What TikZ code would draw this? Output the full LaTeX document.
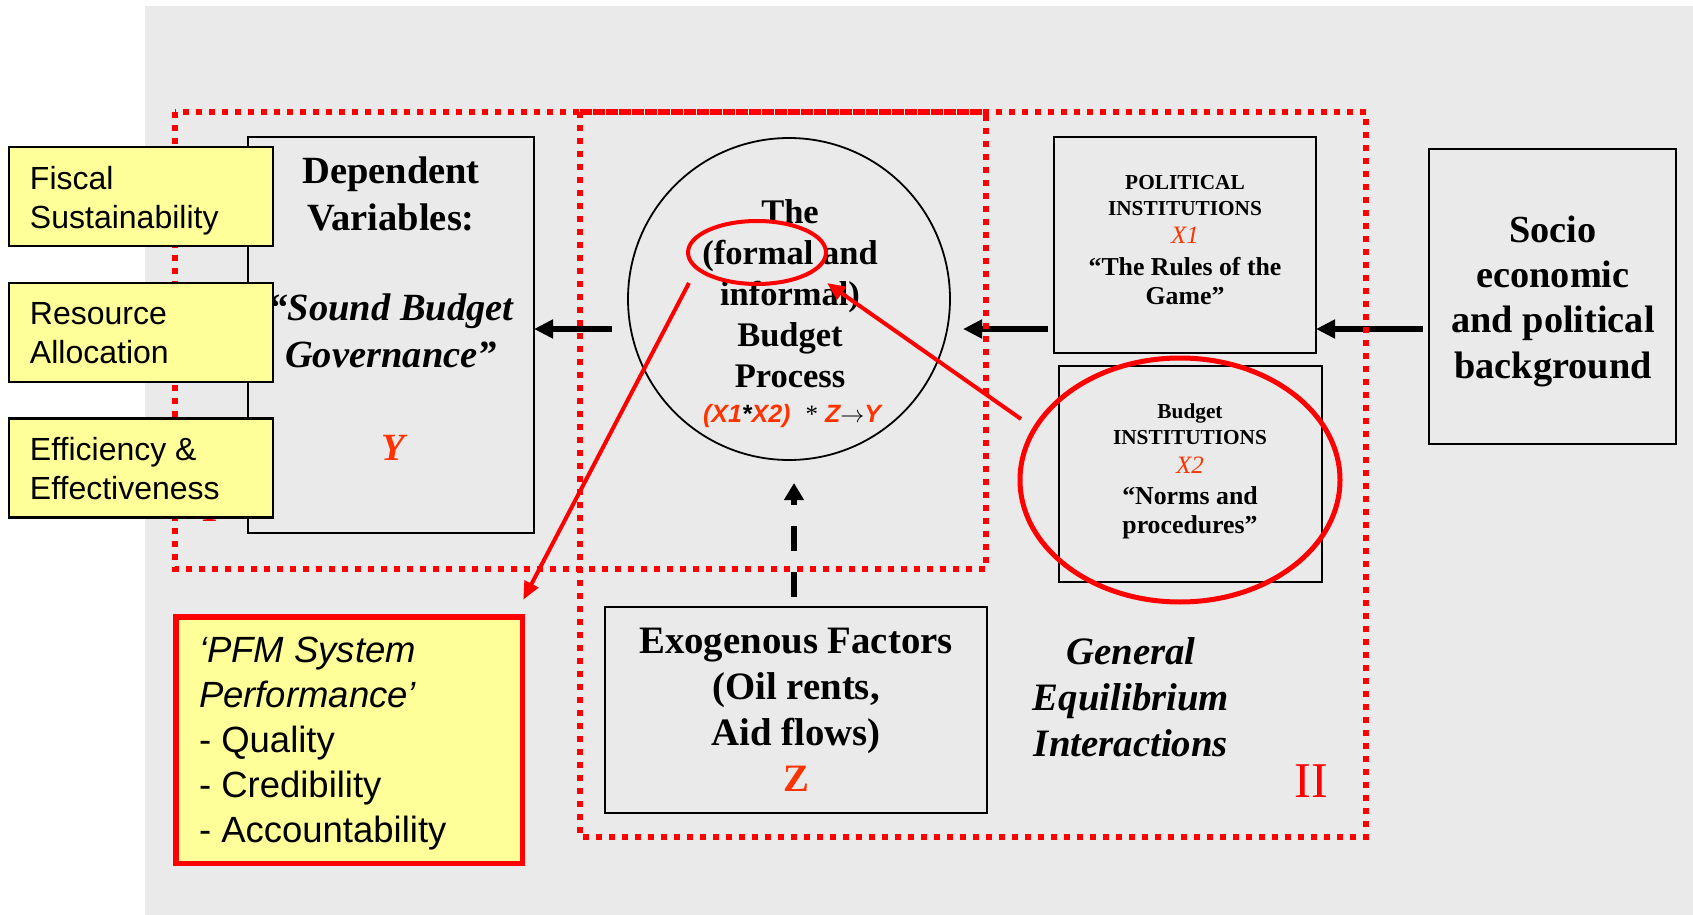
\documentclass[tikz,border=0pt]{standalone}
\usepackage{fontspec}
\setmainfont{Liberation Serif}
\setsansfont{Liberation Sans}
\usetikzlibrary{arrows.meta,shapes.geometric,calc}
\definecolor{bggrey}{HTML}{EAEAEA}
\definecolor{yel}{HTML}{FFFF99}
\definecolor{ored}{HTML}{FF3300}
\definecolor{pred}{HTML}{FF0000}
\begin{document}
\begin{tikzpicture}[x=0.5pt,y=-0.5pt,
  box/.style={draw=black, line width=1pt, rectangle, inner sep=0pt, outer sep=0pt},
  ybox/.style={draw=black, line width=1.2pt, fill=yel, rectangle, inner sep=0pt, outer sep=0pt, minimum width=132pt, minimum height=49.5pt},
  txt/.style={inner sep=0pt, outer sep=0pt, anchor=base, align=center},
  ytxt/.style={inner sep=0pt, outer sep=0pt, anchor=base west, align=left, font=\sffamily\fontsize{16}{19.25}\selectfont},
  dotbox/.style={draw=pred, line width=3pt, dash pattern=on 3pt off 3.5pt},
  bigarrow/.style={line width=3pt, -{Triangle[length=9.5pt,width=9pt]}},
  dasharrow/.style={line width=3pt, dash pattern=on 12.5pt off 10.5pt, -{Triangle[length=8.5pt,width=9.5pt]}},
  redarrow/.style={draw=pred, line width=2pt, -{Triangle[length=9pt,width=7.5pt]}},
  redring/.style={ellipse, draw=pred, inner sep=0pt, outer sep=0pt},
]
\path[use as bounding box] (0,0) rectangle (1693,915);
\fill[white] (0,0) rectangle (1693,915);
\fill[bggrey] (145,6) rectangle (1693,915);

% hidden label I
\node[txt, font=\fontsize{25}{30}\selectfont, text=pred] (labI) at (210,521) {I};

% dependent variables
\node[box, minimum width=143pt, minimum height=198pt] (dep) at (391,335) {};
\node[txt, font=\bfseries\fontsize{19.25}{23.5}\selectfont] (dept) at (391,230) {Dependent\\Variables:};
\node[txt, font=\bfseries\itshape\fontsize{19.25}{23.5}\selectfont] (sbg) at (391,367) {“Sound Budget\\Governance”};
\node[txt, font=\bfseries\itshape\fontsize{19.25}{23.5}\selectfont, text=ored] (ylab) at (393,460) {Y};

% budget process circle
\node[circle, draw, line width=0.9pt, minimum size=161pt, inner sep=0pt, outer sep=0pt] (circ) at (789,299) {};
\node[txt, font=\bfseries\fontsize{17.25}{20.5}\selectfont] (bpt) at (790,387) {The\\(formal and\\informal)\\Budget\\Process};
\node[txt, font=\sffamily\bfseries\itshape\fontsize{12.5}{15}\selectfont, text=ored] (form) at (792,422) {(X1{\color{black}*}X2)\hspace{7.5pt}{\color{black}\rmfamily\mdseries\upshape *}\hspace{3.5pt}Z{\color{black}$\rightarrow$}Y};

% political institutions
\node[box, minimum width=131pt, minimum height=108pt] (pol) at (1185,245) {};
\node[txt, font=\bfseries\fontsize{10.65}{13}\selectfont] (polt) at (1185,215) {POLITICAL\\INSTITUTIONS};
\node[txt, font=\itshape\fontsize{12.5}{15}\selectfont, text=ored] (x1) at (1185,243) {X1};
\node[txt, font=\bfseries\fontsize{12.9}{14.5}\selectfont] (rules) at (1185,304) {“The Rules of the\\Game”};

% budget institutions
\node[box, minimum width=131.5pt, minimum height=108pt] (bud) at (1190.5,474) {};
\node[txt, font=\bfseries\fontsize{10.65}{13}\selectfont] (budt) at (1190,444) {Budget\\INSTITUTIONS};
\node[txt, font=\itshape\fontsize{12.5}{15}\selectfont, text=ored] (x2) at (1190,473) {X2};
\node[txt, font=\bfseries\fontsize{12.9}{14.5}\selectfont] (norms) at (1190,533) {“Norms and\\procedures”};

% socio economic
\node[box, minimum width=123.5pt, minimum height=147.5pt] (soc) at (1552.5,296.5) {};
\node[txt, font=\bfseries\fontsize{19.15}{22.65}\selectfont] (soct) at (1553,378) {Socio\\economic\\and political\\background};

% exogenous
\node[box, minimum width=191pt, minimum height=103pt] (exo) at (796,710) {};
\node[txt, font=\bfseries\fontsize{19.4}{23}\selectfont] (exot) at (796,745) {Exogenous Factors\\(Oil rents,\\Aid flows)};
\node[txt, font=\bfseries\fontsize{19.4}{23}\selectfont, text=ored] (zlab) at (796,791) {Z};

% general equilibrium
\node[txt, font=\bfseries\itshape\fontsize{19.4}{23}\selectfont] (gen) at (1131,756) {General\\Equilibrium\\Interactions};
\node[txt, font=\fontsize{25}{30}\selectfont, text=pred] (labII) at (1311,797) {II};

% black arrows
\coordinate (ay) at (0,329);
\draw[bigarrow] ($(soc.west|-ay)+(-6,0)$) -- (pol.east|-ay);
\draw[bigarrow] ($(pol.west|-ay)+(-6,0)$) -- ($(circ.east|-ay)+(13,0)$);
\draw[bigarrow] ($(circ.west|-ay)+(-16,0)$) -- (dep.east|-ay);
\draw[dasharrow] ($(exo.north)+(-2,-10)$) -- ($(circ.south)+(5,23)$);

% dotted regions
\draw[dotbox] (175,112) rectangle (986,569);
\draw[dotbox] (580,112) rectangle (1366,837);

% yellow boxes
\node[ybox] (fis) at (141,196.5) {};
\node[ytxt] (fist) at (30,228) {Fiscal\\Sustainability};
\node[ybox] (res) at (141,332.5) {};
\node[ytxt] (rest) at (30,363) {Resource\\Allocation};
\node[ybox] (eff) at (141,468) {};
\node[ytxt] (efft) at (30,499) {Efficiency \&\\Effectiveness};

% PFM box
\node[rectangle, draw=pred, line width=2.75pt, fill=yel, minimum width=173.25pt, minimum height=123.25pt, inner sep=0pt, outer sep=0pt] (pfm) at (349,740) {};
\node[ytxt, font=\sffamily\fontsize{18.25}{22.4}\selectfont] (pfmt) at (199,842) {\textit{‘PFM System}\\\textit{Performance’}\\- Quality\\- Credibility\\- Accountability};

% red rings and arrows
\node[redring, line width=2pt, minimum width=69pt, minimum height=31.5pt] (fm) at (757,252.5) {};
\node[redring, line width=2.5pt, minimum width=160pt, minimum height=122pt] (bc) at (1180,480) {};
\draw[redarrow] ($(fm.west)+(-68,30.5)+(69,0)$) -- ($(pfm.north east)+(1,-17)$);
\draw[redarrow] ($(bc.west)+(1,-61)$) -- ($(fm.east)+(1,30.5)$);
\end{tikzpicture}
\end{document}
